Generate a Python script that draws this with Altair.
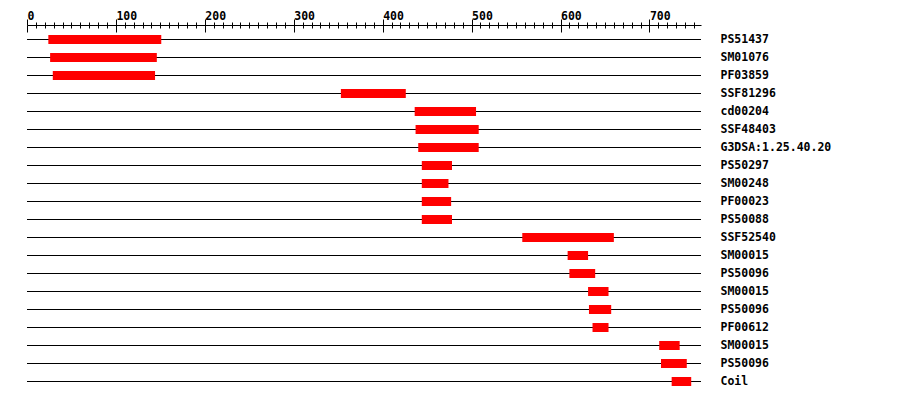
import json
import altair as alt
import pandas as pd

# Domain hits (row order top to bottom)
labels = ["PS51437", "SM01076", "PF03859", "SSF81296", "cd00204", "SSF48403",
          "G3DSA:1.25.40.20", "PS50297", "SM00248", "PF00023", "PS50088",
          "SSF52540", "SM00015", "PS50096", "SM00015", "PS50096", "PF00612",
          "SM00015", "PS50096", "Coil"]
starts = [24, 26, 29, 353, 436, 437, 440, 444, 444, 444, 444,
          557, 608, 610, 631, 632, 636, 711, 713, 725]
ends = [151, 146, 144, 426, 505, 508, 508, 478, 474, 477, 478,
        660, 631, 639, 654, 657, 654, 734, 742, 747]
protein_length = 758
tick_values = list(range(0, 760, 10))

df = pd.DataFrame({
    "row": list(range(len(labels))),
    "label": labels,
    "start": starts,
    "end": ends,
    "zero": [0] * len(labels),
    "length": [protein_length] * len(labels),
})

FONT = "DejaVu Sans Mono"
xscale = alt.Scale(domain=[0, protein_length], nice=False, zero=False)
# point scale (default padding 0.5): 20 rows, 18px apart
yscale = alt.Scale(range=[5.5, 365.5])

upper_axis = alt.Axis(
    orient="top", values=tick_values, title=None, grid=False,
    labelExpr="datum.value % 100 === 0 ? datum.label : ''",
    tickSize={"condition": {"test": "datum.value % 100 === 0", "value": 6}, "value": 3},
    tickColor="black", domainColor="black", tickWidth=1, domainWidth=1,
    labelFont=FONT, labelFontWeight="bold", labelFontSize=11.5, labelColor="black",
    labelAlign="left", labelBaseline="alphabetic", labelPadding=0,
    labelOverlap=False, labelFlush=False,
)
lower_axis = alt.Axis(
    orient="top", values=tick_values, title=None, grid=False, labels=False, domain=False,
    tickSize={"condition": {"test": "datum.value % 100 === 0", "value": -7}, "value": -3},
    tickColor="black", tickWidth=1,
)
label_expr = json.dumps(labels) + "[datum.value]"
y_axis = alt.Axis(
    orient="right", title=None, ticks=False, tickSize=0, domain=False, grid=False,
    labelExpr=label_expr, labelFont=FONT, labelFontWeight="bold", labelFontSize=11.5,
    labelColor="black", labelAlign="left", labelBaseline="middle", labelPadding=19,
    labelOverlap=False,
)

base = alt.Chart(df)

lines = base.mark_rule(color="black", strokeWidth=1).encode(
    x=alt.X("zero:Q", scale=xscale, axis=upper_axis),
    x2="length:Q",
    y=alt.Y("row:O", scale=yscale, axis=y_axis),
)

bars = base.mark_bar(color="#ff0000", height=9).encode(
    x=alt.X("start:Q", scale=xscale, axis=None),
    x2="end:Q",
    y=alt.Y("row:O", scale=yscale, axis=None),
)

down_ticks = base.mark_rule(opacity=0).encode(
    x=alt.X("zero:Q", scale=xscale, axis=lower_axis),
)

chart = alt.layer(lines, bars, down_ticks).resolve_axis(
    x="independent", y="independent"
).properties(
    width=674, height=366,
    autosize=alt.AutoSizeParams(type="none"),
    padding={"left": 19, "top": 17, "right": 190, "bottom": 0},
    background="white",
).configure_view(stroke=None)

chart.save("out.html", embed_options={"renderer": "svg", "actions": False})
